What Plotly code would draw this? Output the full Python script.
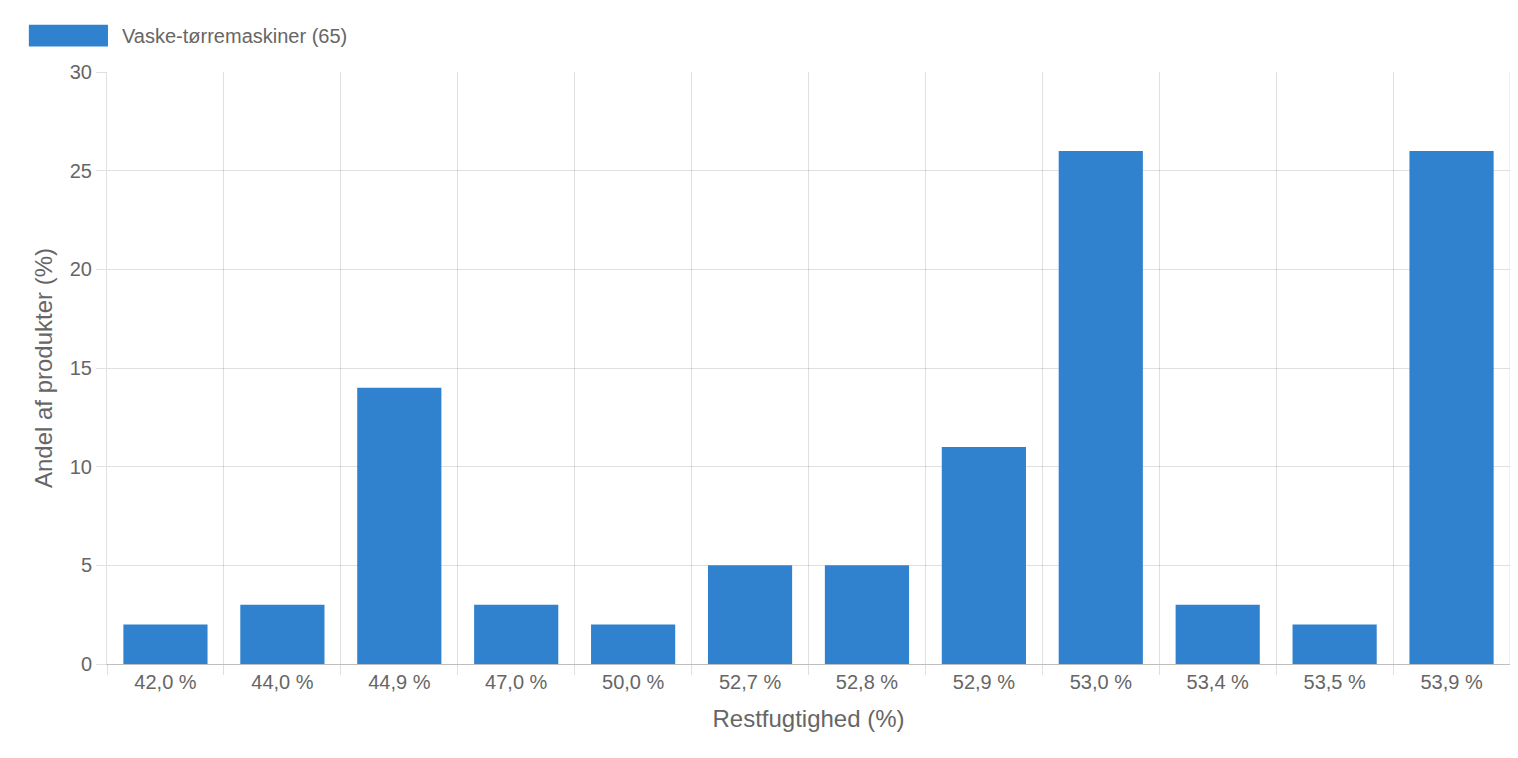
import plotly.graph_objects as go

categories = ["42,0 %", "44,0 %", "44,9 %", "47,0 %", "50,0 %", "52,7 %", "52,8 %", "52,9 %", "53,0 %", "53,4 %", "53,5 %", "53,9 %"]
values = [2, 3, 14, 3, 2, 5, 5, 11, 26, 3, 2, 26]
series_name = "Vaske-tørremaskiner (65)"
bar_color = "#3182ce"
font = "Liberation Sans, Arial, sans-serif"

fig = go.Figure(go.Bar(x=categories, y=values, marker_color=bar_color, marker_line_width=0, name=series_name))
grid = "rgba(0,0,0,0.12)"
fig.update_layout(
    width=1518, height=758, margin=dict(l=99, r=16, t=64, b=102),
    plot_bgcolor="white", paper_bgcolor="white", bargap=0.28, showlegend=False,
    font=dict(family=font, color="#666", size=20),
    xaxis=dict(tickson="boundaries", showgrid=True, gridcolor=grid, ticks="outside", ticklen=10,
               tickcolor=grid, showline=True, linecolor="rgba(0,0,0,0.25)", mirror=False,
               title=dict(text="Restfugtighed (%)", standoff=18), tickfont=dict(size=20)),
    yaxis=dict(range=[0, 30], dtick=5, showgrid=True, gridcolor=grid, ticks="outside", ticklen=10,
               tickcolor=grid, showline=True, linecolor=grid, zeroline=False,
               title=dict(text="Andel af produkter (%)", standoff=10), tickfont=dict(size=20)),
)
fig.add_shape(type="line", xref="paper", yref="paper", x0=1, x1=1, y0=0, y1=1, line=dict(color=grid, width=1))
fig.add_shape(type="rect", xref="paper", yref="paper", x0=-0.0557, x1=0.0007, y0=1.043, y1=1.08,
              fillcolor=bar_color, line_width=0)
fig.add_annotation(text=series_name, xref="paper", yref="paper", x=0.009, y=1.0615, xanchor="left",
                   yanchor="middle", showarrow=False, font=dict(size=20, color="#666"))
fig.write_html("out.html")
